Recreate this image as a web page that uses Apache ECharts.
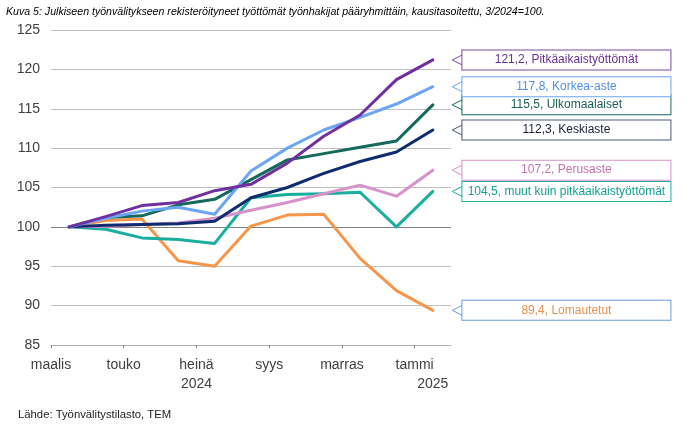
<!DOCTYPE html>
<html>
<head>
<meta charset="utf-8">
<script src="https://cdn.jsdelivr.net/npm/echarts@6/dist/echarts.min.js"></script>
<style>html,body{margin:0;padding:0;background:#fff}#c{width:692px;height:429px}</style>
</head>
<body>
<div id="c"></div>
<script>
const months = ['maalis','huhti','touko','kesä','heinä','elo','syys','loka','marras','joulu','tammi'];
const monthLabels = {0: 'maalis', 2: 'touko', 4: 'heinä\n2024', 6: 'syys', 8: 'marras', 10: 'tammi\n{r|2025}'};
const yTicks = [85, 90, 95, 100, 105, 110, 115, 120, 125];

const pitkaaikais = [100, 101.3, 102.7, 103.1, 104.6, 105.4, 108.1, 111.5, 114.2, 118.7, 121.2];
const korkea      = [100, 101.1, 102.0, 102.5, 101.6, 107.1, 110.0, 112.3, 113.9, 115.6, 117.8];
const ulkomaal    = [100, 101.2, 101.4, 102.8, 103.5, 106.0, 108.5, 109.3, 110.1, 110.9, 115.5];
const keskiaste   = [100, 100.2, 100.3, 100.4, 100.7, 103.7, 105.0, 106.8, 108.3, 109.5, 112.3];
const perusaste   = [100, 100.05, 100.3, 100.5, 101.1, 102.1, 103.1, 104.2, 105.3, 103.9, 107.2];
const muut        = [100, 99.7, 98.6, 98.4, 97.9, 103.7, 104.1, 104.2, 104.4, 100.0, 104.5];
const lomautetut  = [100, 100.8, 101.0, 95.7, 95.0, 100.1, 101.5, 101.6, 96.0, 91.9, 89.4];

const seriesDefs = [
  {name: 'Lomautetut', data: lomautetut, color: '#F5964A', text: '#E8914E', border: '#6A9BE6'},
  {name: 'muut kuin pitkäaikaistyöttömät', data: muut, color: '#19AF9F', text: '#14A090', border: '#19AF9F'},
  {name: 'Perusaste', data: perusaste, color: '#D692C9', text: '#C671AE', border: '#D692C9'},
  {name: 'Keskiaste', data: keskiaste, color: '#0F2C6E', text: '#1A1F3A', border: '#4A5670'},
  {name: 'Ulkomaalaiset', data: ulkomaal, color: '#14695C', text: '#1B5E52', border: '#14695C'},
  {name: 'Korkea-aste', data: korkea, color: '#6AA6F3', text: '#4F8FE6', border: '#6AA6F3'},
  {name: 'Pitkäaikaistyöttömät', data: pitkaaikais, color: '#7030A0', text: '#6A2F91', border: '#7A4A9E'}
];

const fmt = v => v.toFixed(1).replace('.', ',');
const chevron = 'path://M10,0 L0,5 L10,10';
const FONT = 'Liberation Sans, Arial, sans-serif';

const series = seriesDefs.map(s => ({
  name: s.name,
  type: 'line',
  xAxisIndex: 0,
  data: s.data,
  symbol: 'none',
  smooth: false,
  lineStyle: {width: 3, color: s.color, cap: 'round', join: 'round'},
  itemStyle: {color: s.color},
  clip: false,
  markPoint: {
    silent: true,
    animation: false,
    symbol: chevron,
    symbolSize: [10, 10],
    symbolKeepAspect: false,
    symbolOffset: [24.4, 0],
    itemStyle: {color: 'rgba(255,255,255,0)', borderColor: s.border, borderWidth: 1},
    label: {
      show: true,
      position: 'inside',
      offset: [109.2, 0],
      width: 208,
      height: 19,
      lineHeight: 19,
      align: 'center',
      verticalAlign: 'middle',
      backgroundColor: '#ffffff',
      borderColor: s.border,
      borderWidth: 1,
      padding: 0,
      color: s.text,
      fontSize: 12,
      fontFamily: FONT,
      formatter: fmt(s.data[s.data.length - 1]) + ', ' + s.name
    },
    data: [{coord: [s.data.length - 1, s.data[s.data.length - 1]]}]
  }
}));

const gridColors = yTicks.slice(1).map(v => v === 100 ? '#808080' : '#C0C0C0');

const chart = echarts.init(document.getElementById('c'), null, {renderer: 'canvas'});
chart.setOption({
  animation: false,
  backgroundColor: '#ffffff',
  title: [
    {
      text: 'Kuva 5: Julkiseen työnvälitykseen rekisteröityneet työttömät työnhakijat pääryhmittäin, kausitasoitettu, 3/2024=100.',
      left: 1, top: 2,
      textStyle: {fontStyle: 'italic', fontWeight: 'normal', fontSize: 10.6, color: '#000', fontFamily: FONT}
    },
    {
      text: 'Lähde: Työnvälitystilasto, TEM',
      left: 13, top: 404,
      textStyle: {fontWeight: 'normal', fontSize: 11.3, color: '#222', fontFamily: FONT}
    }
  ],
  grid: {left: 51, right: 241, top: 30, bottom: 84, containLabel: false},
  xAxis: [
    {
      type: 'category',
      data: months,
      boundaryGap: true,
      position: 'bottom',
      axisLine: {show: true, lineStyle: {color: '#B0B0B0', width: 1}},
      axisTick: {show: false},
      axisLabel: {show: false},
      splitLine: {show: false}
    },
    {
      type: 'value',
      position: 'bottom',
      min: 0, max: months.length, interval: 2,
      axisLine: {show: false},
      axisTick: {show: true, length: 3, lineStyle: {color: '#808080'}},
      axisLabel: {
        margin: 11,
        color: '#404040',
        fontSize: 14,
        lineHeight: 19,
        fontFamily: FONT,
        showMaxLabel: false,
        formatter: function (v) { return monthLabels[v] || ''; },
        rich: {r: {padding: [0, 0, 0, 36.4], fontSize: 14, color: '#404040', lineHeight: 19, fontFamily: FONT}}
      },
      splitLine: {show: false}
    }
  ],
  yAxis: {
    type: 'value',
    min: 85, max: 125, interval: 5,
    axisLine: {show: false},
    axisTick: {show: false},
    axisLabel: {margin: 11, color: '#404040', fontSize: 14, fontFamily: FONT},
    splitLine: {show: true, showMinLine: false, lineStyle: {color: gridColors, width: 1}}
  },
  series: series
});
</script>
</body>
</html>
